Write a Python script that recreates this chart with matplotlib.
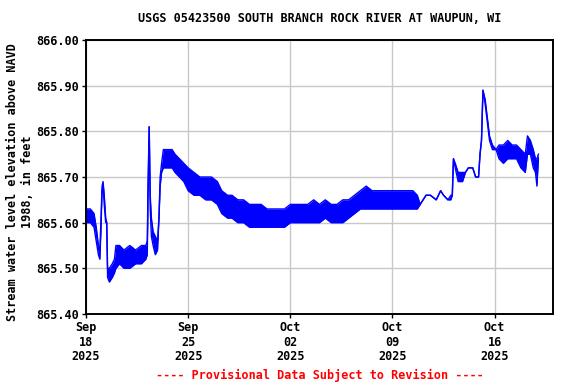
import numpy as np
import matplotlib
matplotlib.use("Agg")
import matplotlib.pyplot as plt
import matplotlib.dates as mdates

# days after 2025-09-18 00:00, with low / high edge of the 15-min gage readings
days = [0.00, 0.30, 0.55, 0.70, 0.85, 0.95, 1.02, 1.10, 1.17, 1.25, 1.35, 1.42,
        1.48, 1.60, 1.80, 1.95, 2.05, 2.30, 2.60, 3.00, 3.40, 3.80, 4.10, 4.20,
        4.25, 4.33, 4.40, 4.48, 4.60, 4.75, 4.90, 5.00, 5.08, 5.18, 5.30, 5.60,
        5.90, 6.10, 6.40, 6.70, 7.00, 7.40, 7.80, 8.20, 8.60, 9.00, 9.30, 9.70,
        10.00, 10.40, 10.80, 11.20, 11.60, 12.00, 12.40, 12.80, 13.20, 13.60,
        14.00, 14.40, 14.80, 15.20, 15.60, 16.00, 16.40, 16.80, 17.20, 17.60,
        18.00, 18.40, 18.80, 19.20, 19.60, 20.00, 20.40, 20.80, 21.20, 21.60,
        22.00, 22.40, 22.70, 22.90, 23.10, 23.30, 23.60, 24.00, 24.15, 24.30,
        24.50, 24.80, 25.00, 25.10, 25.18, 25.30, 25.50, 25.80, 26.00, 26.20,
        26.50, 26.70, 26.90, 27.00, 27.10, 27.20, 27.35, 27.50, 27.65, 27.85,
        28.10, 28.30, 28.60, 28.90, 29.20, 29.50, 29.80, 30.10, 30.25, 30.45,
        30.65, 30.80, 30.90, 31.00]
low = [865.60, 865.60, 865.59, 865.56, 865.53, 865.52, 865.58, 865.67, 865.68, 865.64, 865.60, 865.60,
       865.48, 865.47, 865.48, 865.49, 865.50, 865.51, 865.50, 865.50, 865.51, 865.51, 865.52, 865.53,
       865.66, 865.81, 865.63, 865.57, 865.55, 865.53, 865.54, 865.61, 865.68, 865.71, 865.72, 865.72,
       865.72, 865.71, 865.70, 865.69, 865.67, 865.66, 865.66, 865.65, 865.65, 865.64, 865.62, 865.61,
       865.61, 865.60, 865.60, 865.59, 865.59, 865.59, 865.59, 865.59, 865.59, 865.59,
       865.60, 865.60, 865.60, 865.60, 865.60, 865.60, 865.61, 865.60, 865.60, 865.60,
       865.61, 865.62, 865.63, 865.63, 865.63, 865.63, 865.63, 865.63, 865.63, 865.63,
       865.63, 865.63, 865.63, 865.64, 865.65, 865.66, 865.66, 865.65, 865.66, 865.67,
       865.66, 865.65, 865.65, 865.66, 865.74, 865.72, 865.69, 865.69, 865.71, 865.72,
       865.72, 865.70, 865.70, 865.75, 865.78, 865.89, 865.86, 865.82, 865.78, 865.76,
       865.76, 865.74, 865.73, 865.74, 865.74, 865.74, 865.72, 865.71, 865.75, 865.75,
       865.72, 865.71, 865.68, 865.74]
high = [865.63, 865.63, 865.62, 865.59, 865.55, 865.54, 865.60, 865.68, 865.69, 865.66, 865.61, 865.60,
        865.50, 865.50, 865.51, 865.52, 865.55, 865.55, 865.54, 865.55, 865.54, 865.55, 865.55, 865.56,
        865.68, 865.81, 865.66, 865.61, 865.58, 865.57, 865.56, 865.61, 865.70, 865.73, 865.76, 865.76,
        865.76, 865.75, 865.74, 865.73, 865.72, 865.71, 865.70, 865.70, 865.70, 865.69, 865.67, 865.66,
        865.66, 865.65, 865.65, 865.64, 865.64, 865.64, 865.63, 865.63, 865.63, 865.63,
        865.64, 865.64, 865.64, 865.64, 865.65, 865.64, 865.65, 865.64, 865.64, 865.65,
        865.65, 865.66, 865.67, 865.68, 865.67, 865.67, 865.67, 865.67, 865.67, 865.67,
        865.67, 865.67, 865.66, 865.64, 865.65, 865.66, 865.66, 865.65, 865.66, 865.67,
        865.66, 865.65, 865.66, 865.66, 865.74, 865.73, 865.71, 865.71, 865.71, 865.72,
        865.72, 865.70, 865.70, 865.75, 865.78, 865.89, 865.87, 865.83, 865.79, 865.77,
        865.76, 865.77, 865.77, 865.78, 865.77, 865.77, 865.76, 865.75, 865.79, 865.78,
        865.76, 865.74, 865.74, 865.75]

start = np.datetime64("2025-09-18T00:00")
times = start + (np.array(days) * 24 * 60).astype("timedelta64[m]")
tick_dates = ["2025-09-18", "2025-09-25", "2025-10-02", "2025-10-09", "2025-10-16"]

font = "DejaVu Sans Mono"
plt.rcParams["font.family"] = font
plt.rcParams["font.weight"] = "bold"
plt.rcParams["font.size"] = 8.5

fig = plt.figure(figsize=(5.76, 3.84), dpi=100)
ax = fig.add_axes([86 / 576, 1 - 314 / 384, 467 / 576, 274 / 384])

ax.fill_between(times, low, high, color="#0000ff", linewidth=0)
ax.plot(times, high, color="#0000ff", linewidth=1.0)
ax.plot(times, low, color="#0000ff", linewidth=1.0)

ax.set_xlim(start, np.datetime64("2025-10-20T00:00"))
ax.set_ylim(865.40, 866.00)
ax.set_yticks(np.arange(865.40, 866.001, 0.10))
ax.yaxis.set_major_formatter(matplotlib.ticker.FormatStrFormatter("%.2f"))
ax.set_xticks(np.array(tick_dates, dtype="datetime64[D]"))
ax.xaxis.set_major_formatter(mdates.DateFormatter("%b\n%d\n%Y"))
for lab in ax.get_xticklabels():
    lab.set_horizontalalignment("center")
    lab.set_linespacing(1.17)

ax.grid(True, color="#c8c8c8", linewidth=1.0)
ax.set_axisbelow(True)
for s in ax.spines.values():
    s.set_linewidth(1.4)
    s.set_color("black")
ax.tick_params(length=3, width=1, pad=2, colors="black")

ax.set_title("USGS 05423500 SOUTH BRANCH ROCK RIVER AT WAUPUN, WI",
             fontsize=8.5, fontweight="bold", pad=13)
ax.set_ylabel("Stream water level elevation above NAVD\n1988, in feet",
              fontsize=8.5, fontweight="bold", linespacing=1.15)
ax.yaxis.set_label_coords(-0.112, 0.482)
fig.text(319.5 / 576, 1 - 375 / 384, "---- Provisional Data Subject to Revision ----",
         color="red", ha="center", va="center", fontsize=8.5, fontweight="bold")

fig.savefig("out.png", dpi=100)
